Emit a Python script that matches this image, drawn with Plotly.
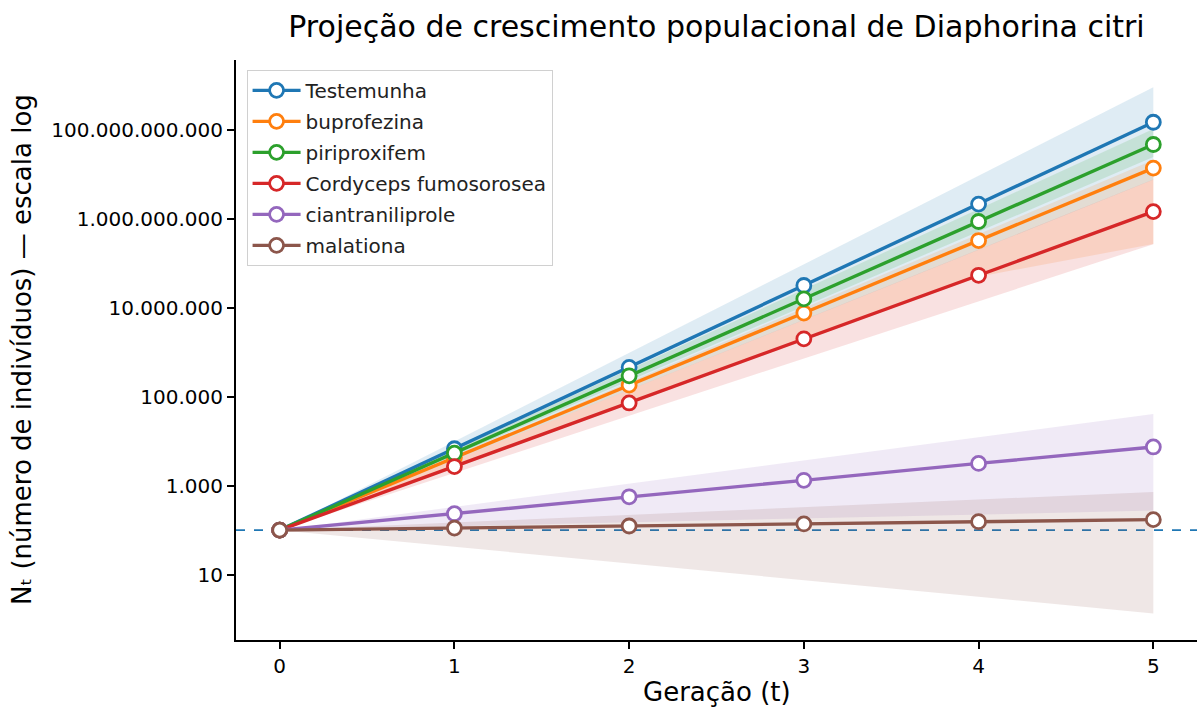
import plotly.graph_objects as go

geracao = [0, 1, 2, 3, 4, 5]
nomes = ["Testemunha", "buprofezina", "piriproxifem", "Cordyceps fumosorosea", "ciantraniliprole", "malationa"]
cores = ["#1f77b4", "#ff7f0e", "#2ca02c", "#d62728", "#9467bd", "#8c564b"]

testemunha = [100, 6760, 457000, 3.16e7, 2.14e9, 1.48e11]
buprofezina = [100, 4270, 182000, 7.6e6, 3.24e8, 1.38e10]
piriproxifem = [100, 5370, 295000, 1.58e7, 8.7e8, 4.68e10]
cordyceps = [100, 2690, 72400, 2.0e6, 5.37e7, 1.45e9]
ciantraniliprole = [100, 234, 562, 1318, 3162, 7413]
malationa = [100, 111, 124, 138, 155, 172]

testemunha_lo = [100, 3760, 141000, 5.31e6, 2.0e8, 7.5e9]
testemunha_hi = [100, 9820, 964000, 9.47e7, 9.29e9, 9.12e11]
buprofezina_lo = [100, 2510, 67600, 1.86e6, 5.0e7, 2.7e8]
buprofezina_hi = [100, 4610, 213000, 9.8e6, 4.53e8, 2.09e10]
piriproxifem_lo = [100, 4760, 227000, 1.08e7, 5.15e8, 2.45e10]
piriproxifem_hi = [100, 6370, 406000, 2.58e7, 1.64e9, 1.05e11]
cordyceps_lo = [100, 1930, 37300, 721000, 1.39e7, 2.69e8]
cordyceps_hi = [100, 3780, 143000, 5.38e6, 2.03e8, 7.67e9]
ciantraniliprole_lo = [100, 122, 150, 184, 225, 275]
ciantraniliprole_hi = [100, 333, 1107, 3680, 12200, 40700]
malationa_lo = [100, 42.2, 17.8, 7.52, 3.17, 1.34]
malationa_hi = [100, 149, 221, 328, 488, 724]

N0 = 100

y_tickvals = [10, 1e3, 1e5, 1e7, 1e9, 1e11]
y_ticktext = ["10", "1.000", "100.000", "10.000.000", "1.000.000.000", "100.000.000.000"]

medias = [testemunha, buprofezina, piriproxifem, cordyceps, ciantraniliprole, malationa]
inferiores = [testemunha_lo, buprofezina_lo, piriproxifem_lo, cordyceps_lo, ciantraniliprole_lo, malationa_lo]
superiores = [testemunha_hi, buprofezina_hi, piriproxifem_hi, cordyceps_hi, ciantraniliprole_hi, malationa_hi]


def rgba(hexc, a):
    h = hexc.lstrip("#")
    r, g, b = int(h[0:2], 16), int(h[2:4], 16), int(h[4:6], 16)
    return f"rgba({r},{g},{b},{a})"


FONT = "DejaVu Sans"
fig = go.Figure()

for nome, cor, lo, hi in zip(nomes, cores, inferiores, superiores):
    fig.add_trace(go.Scatter(x=geracao, y=lo, mode="lines", line=dict(width=0, color=cor),
                             showlegend=False, hoverinfo="skip"))
    fig.add_trace(go.Scatter(x=geracao, y=hi, mode="lines", line=dict(width=0, color=cor),
                             fill="tonexty", fillcolor=rgba(cor, 0.14),
                             showlegend=False, hoverinfo="skip"))

for nome, cor, med in zip(nomes, cores, medias):
    fig.add_trace(go.Scatter(
        x=geracao, y=med, name=nome, mode="lines+markers", legendgroup=nome,
        line=dict(color=cor, width=3.4),
        marker=dict(symbol="circle", size=14, color="white", line=dict(color=cor, width=2.8)),
    ))

fig.add_shape(type="line", xref="paper", x0=0, x1=1, yref="y", y0=N0, y1=N0,
              line=dict(color="#1f77b4", width=1.6, dash="dash"), layer="below")

fig.update_layout(
    width=1200, height=708,
    margin=dict(l=236, r=3, t=60, b=68),
    plot_bgcolor="white", paper_bgcolor="white",
    font=dict(family=FONT, color="black", size=20),
    title=dict(text="Projeção de crescimento populacional de Diaphorina citri",
               x=0.5, xanchor="center", xref="paper",
               y=1 - 26 / 708, yanchor="middle",
               font=dict(family=FONT, size=30, color="black")),
    showlegend=True,
    legend=dict(x=0.011, y=0.983, xanchor="left", yanchor="top",
                bgcolor="rgba(255,255,255,0.85)", bordercolor="#d0d0d0", borderwidth=1,
                font=dict(family=FONT, size=20, color="#222"),
                tracegroupgap=2, itemwidth=48),
    xaxis=dict(range=[-0.25, 5.25], tickvals=geracao, ticks="outside", ticklen=7, tickwidth=1.6,
               tickcolor="black", showline=True, linecolor="black", linewidth=2,
               showgrid=False, zeroline=False, tickfont=dict(size=20)),
    yaxis=dict(type="log", range=[-0.47, 12.57], tickvals=y_tickvals, ticktext=y_ticktext,
               ticks="outside", ticklen=7, tickwidth=1.6, tickcolor="black",
               showline=True, linecolor="black", linewidth=2, showgrid=False, zeroline=False,
               tickfont=dict(size=20)),
    annotations=[
        dict(text="Geração (t)", xref="paper", yref="paper", x=0.5, y=0, xanchor="center",
             yanchor="middle", yshift=-52, showarrow=False, font=dict(size=26, family=FONT)),
        dict(text="Nₜ (número de indivíduos) — escala log", xref="paper", yref="paper", x=0, y=0.5,
             xanchor="center", yanchor="middle", xshift=-214, textangle=-90, showarrow=False,
             font=dict(size=26, family=FONT)),
    ],
)

fig.write_html("out.html")
